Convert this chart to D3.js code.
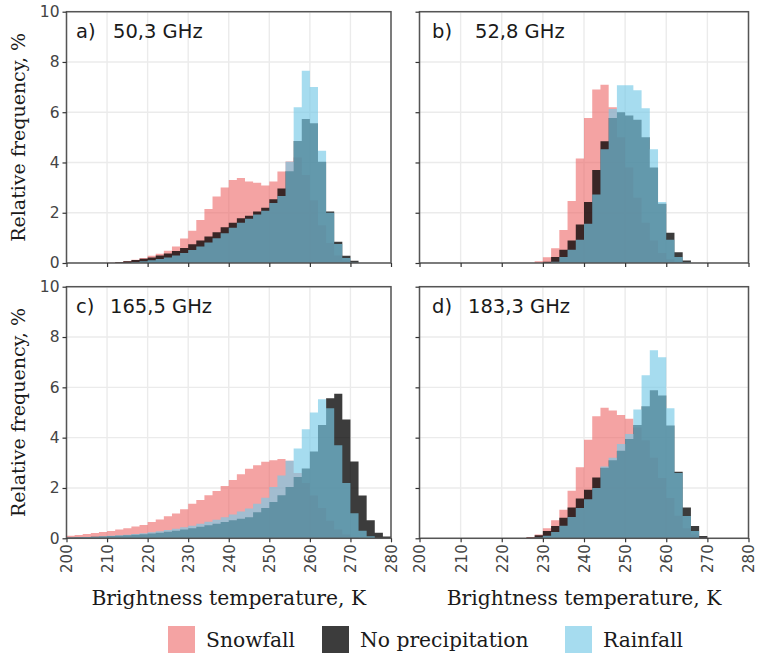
<!DOCTYPE html>
<html>
<head>
<meta charset="utf-8">
<script src="https://cdn.jsdelivr.net/npm/d3@7"></script>
<style>
  body { margin: 0; background: #fff; }
  svg { display: block; }
</style>
</head>
<body>
<svg width="758" height="653"></svg>
<script>
// histogram bins: 2 K wide, from 200 K up to 280 K
const binStart = d3.range(200, 280, 2)
const xTicks = [200, 210, 220, 230, 240, 250, 260, 270, 280]
const yTicks = [0, 2, 4, 6, 8, 10]

const panelLabels = ["a)", "b)", "c)", "d)"]
const channels = ["50,3 GHz", "52,8 GHz", "165,5 GHz", "183,3 GHz"]
const seriesNames = ["Snowfall", "No precipitation", "Rainfall"]

// relative frequency, % (one value per bin, 200..278)
const snowA = [0,0,0,0,0,0.01,0.04,0.08,0.13,0.2, 0.29,0.37,0.49,0.66,0.97,1.28,1.71,2.15,2.65,3.0, 3.3,3.38,3.24,3.19,3.08,3.24,3.64,4.04,4.2,3.5, 2.5,1.5,0.8,0.3,0.1,0,0,0,0,0]
const dryA  = [0,0,0,0,0,0,0.03,0.07,0.12,0.17, 0.22,0.3,0.38,0.48,0.6,0.75,0.9,1.05,1.22,1.42, 1.6,1.78,1.88,2.05,2.2,2.54,2.96,3.65,4.85,5.73, 5.56,4.03,2.05,0.85,0.29,0.09,0,0,0,0]
const rainA = [0,0,0,0,0,0,0,0,0.04,0.07, 0.11,0.16,0.22,0.3,0.4,0.52,0.66,0.82,0.98,1.18, 1.4,1.6,1.76,1.93,2.08,2.39,2.67,4.03,6.2,7.65, 7.0,4.47,2.0,0.76,0.2,0.02,0,0,0,0]

const snowB = [0,0,0,0,0,0,0,0,0,0, 0,0,0,0,0.07,0.23,0.59,1.31,2.47,4.16, 5.77,6.9,7.09,6.2,5.0,3.8,2.6,1.6,0.9,0.4, 0.15,0.05,0,0,0,0,0,0,0,0]
const dryB  = [0,0,0,0,0,0,0,0,0,0, 0,0,0,0,0,0.05,0.24,0.53,0.9,1.53, 2.43,3.7,4.84,5.77,6.0,5.87,5.7,5.0,3.8,2.36, 1.2,0.43,0.1,0,0,0,0,0,0,0]
const rainB = [0,0,0,0,0,0,0,0,0,0, 0,0,0,0,0,0,0.05,0.24,0.53,0.93, 1.56,2.73,4.53,6.13,7.07,7.07,6.87,6.16,4.53,2.43, 0.93,0.24,0.03,0,0,0,0,0,0,0]

const snowC = [0.1,0.13,0.17,0.21,0.25,0.29,0.35,0.4,0.47,0.53, 0.65,0.75,0.88,0.99,1.15,1.37,1.52,1.71,1.88,2.08, 2.32,2.55,2.76,2.9,3.04,3.1,3.15,3.08,2.6,2.2, 1.7,1.2,0.7,0.35,0.15,0.05,0,0,0,0]
const dryC  = [0.03,0.04,0.05,0.06,0.07,0.09,0.1,0.12,0.14,0.16, 0.19,0.22,0.26,0.3,0.35,0.4,0.46,0.52,0.58,0.65, 0.72,0.78,0.84,1.04,1.2,1.44,1.71,2.04,2.44,2.77, 3.45,4.5,5.57,5.75,4.72,3.05,1.7,0.72,0.22,0.07]
const rainC = [0.03,0.04,0.05,0.06,0.08,0.1,0.12,0.14,0.17,0.2, 0.24,0.28,0.33,0.38,0.44,0.5,0.58,0.66,0.74,0.84, 0.95,1.07,1.18,1.37,1.61,2.04,2.5,3.08,3.57,4.33, 5.0,5.53,5.17,3.7,2.2,1.0,0.3,0.08,0,0]

const snowD = [0,0,0,0,0,0,0,0,0,0, 0,0,0,0.05,0.15,0.4,0.72,1.13,1.89,2.82, 3.92,4.85,5.19,5.08,4.9,4.75,4.4,3.9,3.2,2.4, 1.6,0.9,0.4,0.15,0.05,0,0,0,0,0]
const dryD  = [0,0,0,0,0,0,0,0,0,0, 0,0,0,0.03,0.12,0.29,0.49,0.82,1.22,1.58, 1.93,2.42,2.8,3.1,3.48,3.95,4.5,5.25,5.88,5.68, 4.48,2.65,1.22,0.49,0.09,0,0,0,0,0]
const rainD = [0,0,0,0,0,0,0,0,0,0, 0,0,0,0,0.03,0.1,0.25,0.5,0.85,1.2, 1.55,2.0,2.85,3.2,3.75,4.15,5.12,6.48,7.47,7.2, 5.17,2.6,0.89,0.29,0.02,0,0,0,0,0]

const panelData = [
  [snowA, dryA, rainA],
  [snowB, dryB, rainB],
  [snowC, dryC, rainC],
  [snowD, dryD, rainD]
]

// drawing styles (semi transparent, drawn snow -> dry -> rain)
const fills = ["rgb(237,102,102)", "#000", "rgb(120,202,231)"]
const opac = [0.6, 0.765, 0.66]

// panel geometry
const cols = [[66.5, 391], [419.5, 748.5]]
const rows = [[11.7, 263], [286.7, 538.3]]
const labelX = [[76, 113], [432, 475], [76, 110], [432, 468]]

const svg = d3.select("svg")
const sans = "'DejaVu Sans', sans-serif"
const serif = "'DejaVu Serif', serif"

panelData.forEach((series, p) => {
  const col = cols[p % 2]
  const row = rows[Math.floor(p / 2)]
  const isLeft = p % 2 === 0
  const isBottom = p >= 2

  const scaleX = d3.scaleLinear().domain([200, 280]).range(col)
  const scaleY = d3.scaleLinear().domain([0, 10]).range([row[1], row[0]])

  const g = svg.append("g").attr("class", "panel")

  // grid
  g.selectAll("line.gx")
    .data(xTicks)
    .enter()
    .append("line")
    .attr("x1", d => scaleX(d)).attr("x2", d => scaleX(d))
    .attr("y1", row[0]).attr("y2", row[1])
    .attr("stroke", "#ebebeb").attr("stroke-width", 1.4)
  g.selectAll("line.gy")
    .data(yTicks)
    .enter()
    .append("line")
    .attr("y1", d => scaleY(d)).attr("y2", d => scaleY(d))
    .attr("x1", col[0]).attr("x2", col[1])
    .attr("stroke", "#ebebeb").attr("stroke-width", 1.4)

  // histograms as step areas
  const area = d3.area()
    .curve(d3.curveStepAfter)
    .x(d => scaleX(d[0]))
    .y0(scaleY(0))
    .y1(d => scaleY(d[1]))

  series.forEach((vals, s) => {
    const pts = binStart.map((b, i) => [b, vals[i]]).concat([[280, vals[vals.length - 1]]])
    g.append("path")
      .attr("d", area(pts))
      .attr("fill", fills[s])
      .attr("fill-opacity", opac[s])
  })

  // border
  g.append("rect")
    .attr("x", col[0]).attr("y", row[0])
    .attr("width", col[1] - col[0]).attr("height", row[1] - row[0])
    .attr("fill", "none").attr("stroke", "#555").attr("stroke-width", 1.5)

  // axes
  const axisX = d3.axisBottom(scaleX)
    .tickValues(xTicks)
    .tickSizeInner(4).tickSizeOuter(0).tickPadding(3)
    .tickFormat(isBottom ? d3.format("d") : () => "")
  const ax = g.append("g")
    .attr("transform", `translate(0,${row[1]})`)
    .call(axisX)
  ax.select(".domain").remove()
  ax.selectAll(".tick line").attr("stroke", "#333").attr("stroke-width", 1.2)
  ax.selectAll(".tick text")
    .attr("transform", "rotate(-90)")
    .attr("x", -6).attr("y", 0).attr("dy", "0.36em")
    .attr("text-anchor", "end")
    .attr("fill", "#444")
    .style("font-family", sans).style("font-size", "15px")

  const axisY = d3.axisLeft(scaleY)
    .tickValues(yTicks)
    .tickSizeInner(4).tickSizeOuter(0).tickPadding(3)
    .tickFormat(isLeft ? d3.format("d") : () => "")
  const ay = g.append("g")
    .attr("transform", `translate(${col[0]},0)`)
    .call(axisY)
  ay.select(".domain").remove()
  ay.selectAll(".tick line").attr("stroke", "#333").attr("stroke-width", 1.2)
  ay.selectAll(".tick text")
    .attr("fill", "#444")
    .style("font-family", sans).style("font-size", "15.5px")

  // panel title
  g.append("text")
    .attr("x", labelX[p][0]).attr("y", row[0] + 26)
    .style("font-family", sans).style("font-size", "19.5px")
    .attr("fill", "#1a1a1a")
    .text(panelLabels[p])
  g.append("text")
    .attr("x", labelX[p][1]).attr("y", row[0] + 26)
    .style("font-family", sans).style("font-size", "19.5px")
    .attr("fill", "#1a1a1a")
    .text(channels[p])

  // axis titles
  if (isLeft) {
    g.append("text")
      .attr("transform", `translate(18,${(row[0] + row[1]) / 2}) rotate(-90)`)
      .attr("text-anchor", "middle").attr("dy", "0.35em")
      .style("font-family", serif).style("font-size", "19px")
      .attr("fill", "#1a1a1a")
      .text("Relative frequency, %")
  }
  if (isBottom) {
    g.append("text")
      .attr("x", (col[0] + col[1]) / 2).attr("y", 605)
      .attr("text-anchor", "middle")
      .style("font-family", serif).style("font-size", "20.3px")
      .attr("fill", "#1a1a1a")
      .text("Brightness temperature, K")
  }
})

// legend
const legendX = [168, 322, 565]
const legend = svg.append("g").attr("class", "legend")
seriesNames.forEach((name, s) => {
  legend.append("rect")
    .attr("x", legendX[s]).attr("y", 626)
    .attr("width", 27).attr("height", 27)
    .attr("fill", fills[s]).attr("fill-opacity", opac[s])
  legend.append("text")
    .attr("x", legendX[s] + 38).attr("y", 640).attr("dy", "0.35em")
    .style("font-family", serif).style("font-size", "20.3px")
    .attr("fill", "#1a1a1a")
    .text(name)
})
</script>
</body>
</html>
